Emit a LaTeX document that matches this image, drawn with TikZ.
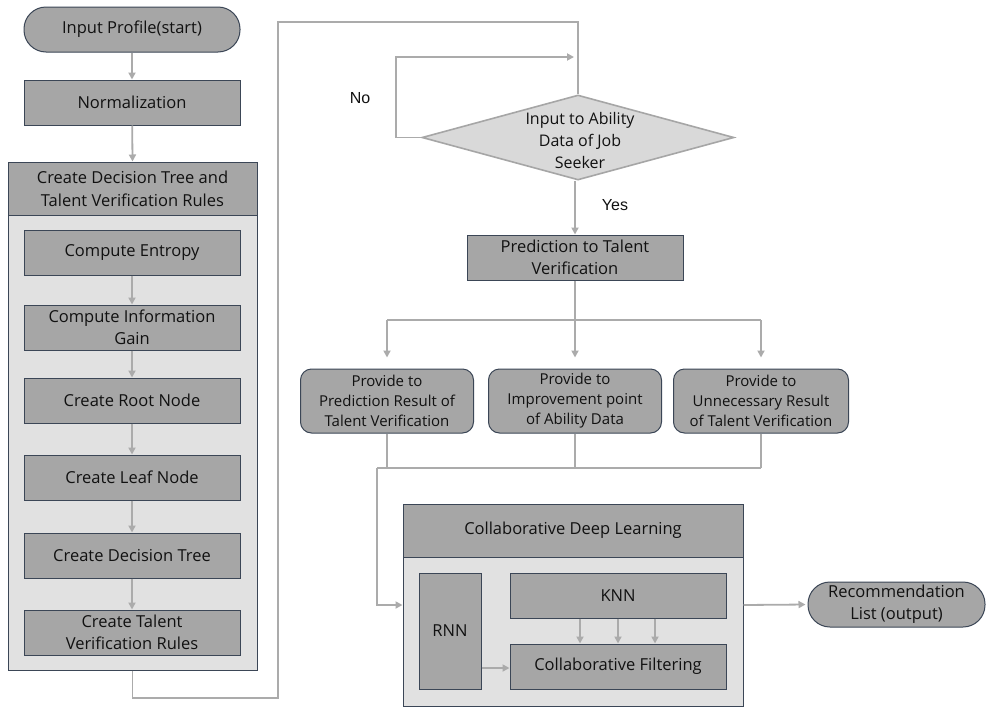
\documentclass[tikz,border=0pt]{standalone}
\usepackage{fontspec}
\setmainfont{Open Sans}
\newfontfamily\arialf{Liberation Sans}
\usetikzlibrary{shapes.geometric,arrows.meta,calc}
\definecolor{boxgray}{HTML}{A6A6A6}
\definecolor{paleg}{HTML}{E1E1E1}
\definecolor{edgec}{HTML}{3B4656}
\definecolor{conngray}{HTML}{ABABAB}
\definecolor{diafill}{HTML}{D9D9D9}
\definecolor{txt}{HTML}{111111}
\begin{document}
\begin{tikzpicture}[x=1pt,y=-1pt,
  box/.style={draw=edgec,line width=1pt,fill=boxgray,minimum width=216pt,minimum height=45pt,inner sep=0pt,align=center,text=txt,font=\fontsize{16.5}{22}\selectfont},
  pill/.style={box,rounded corners=22pt},
  rbox/.style={box,rounded corners=11pt,minimum width=173pt,minimum height=64pt,font=\fontsize{15}{20}\selectfont},
  cont/.style={draw=edgec,line width=1pt,fill=paleg,inner sep=0pt},
  hdr/.style={draw=edgec,line width=1pt,fill=boxgray,inner sep=0pt,align=center,text=txt,font=\fontsize{16.5}{23}\selectfont},
  conn/.style={draw=conngray,line width=1.8pt},
  arr/.style={conn,-{Triangle[length=7pt,width=7pt]}},
  lbl/.style={font=\arialf\fontsize{16}{18}\selectfont,text=txt,inner sep=0pt}
]
\useasboundingbox[fill=white] (0,0) rectangle (986,707);

% left column
\node[pill] (start) at (132,29.5) {Input Profile(start)};
\node[box] (norm) at (132,102.5) {Normalization};
\node[cont,minimum width=249pt,minimum height=508pt] (c1) at (132.5,416) {};
\node[hdr,minimum width=249pt,minimum height=53pt] (h1) at (132.5,188.5) {Create Decision Tree and\\Talent Verification Rules};
\node[box] (ent) at (132,252.5) {Compute Entropy};
\node[box] (gain) at (132,327.5) {Compute Information\\Gain};
\node[box] (root) at (132,400.5) {Create Root Node};
\node[box] (leaf) at (132,477.5) {Create Leaf Node};
\node[box] (dtree) at (132,555.5) {Create Decision Tree};
\node[box] (rules) at (132,632.5) {Create Talent\\Verification Rules};

\draw[arr] (start) -- (norm);
\draw[arr] (norm) -- (c1.north);
\draw[arr] (ent) -- (gain);
\draw[arr] (gain) -- (root);
\draw[arr] (root) -- (leaf);
\draw[arr] (leaf) -- (dtree);
\draw[arr] (dtree) -- (rules);

% decision
\node[diamond,draw=boxgray,line width=1.6pt,fill=diafill,minimum width=312pt,minimum height=85pt,inner sep=0pt,aspect=3.67] (dia) at (578,137.5) {};
\node[align=center,text=txt,inner sep=0pt,font=\fontsize{16}{22}\selectfont] (diat) at (580,140) {Input to Ability\\Data of Job\\Seeker};
\node[lbl] (no) at (360,98) {No};
\node[lbl] (yes) at (615,205) {Yes};

\draw[conn] (c1.south) |- (278,698) -- (278,22) -| (dia.north);
\coordinate (noend) at (574,57);
\draw[arr] (dia.west) -| (396,57) -- (noend);

\node[box] (pred) at (575,257.5) {Prediction to Talent\\Verification};
\draw[arr] (pred.north |- dia.south) -- (pred.north);

\node[rbox] (p1) at (387,401) {Provide to\\Prediction Result of\\Talent Verification};
\node[rbox] (p2) at (575,401) {Provide to\\Improvement point\\of Ability Data};
\node[rbox,minimum width=175pt] (p3) at (761,401) {Provide to\\Unnecessary Result\\of Talent Verification};

\coordinate (j) at (575,320);
\draw[conn] (pred.south) -- (j);
\draw[conn] (p1.north |- j) -- (p3.north |- j);
\draw[arr,shorten >=11pt] (p1.north |- j) -- (p1.north);
\draw[arr,shorten >=11pt] (j) -- (p2.north);
\draw[arr,shorten >=11pt] (p3.north |- j) -- (p3.north);

% bottom part
\node[cont,minimum width=340pt,minimum height=202pt] (c2) at (573,605) {};
\node[hdr,minimum width=340pt,minimum height=53pt] (h2) at (573,530.5) {Collaborative Deep Learning};
\node[box,minimum width=62pt,minimum height=116pt] (rnn) at (450,631) {RNN};
\node[box] (knn) at (618,595.5) {KNN};
\node[box] (cf) at (618,666.5) {Collaborative Filtering};
\node[pill,minimum width=177pt] (rec) at (896.5,604.5) {Recommendation\\List (output)};

\coordinate (m) at (377,468);
\draw[conn] (p1.south) -- (p1.south |- m);
\draw[conn] (p2.south) -- (p2.south |- m);
\draw[conn] (p3.south) -- (p3.south |- m);
\draw[conn] (m) -- (p3.south |- m);
\draw[arr] (m) |- (c2.west);

\draw[arr] ([xshift=-38pt]knn.south) -- ([xshift=-38pt]cf.north);
\draw[arr] (knn.south) -- (cf.north);
\draw[arr] ([xshift=37pt]knn.south) -- ([xshift=37pt]cf.north);
\draw[arr] (rnn.east |- 0,668) -- (cf.west |- 0,668);
\draw[arr,shorten >=2pt] (c2.east) -- (rec.west);
\end{tikzpicture}
\end{document}
